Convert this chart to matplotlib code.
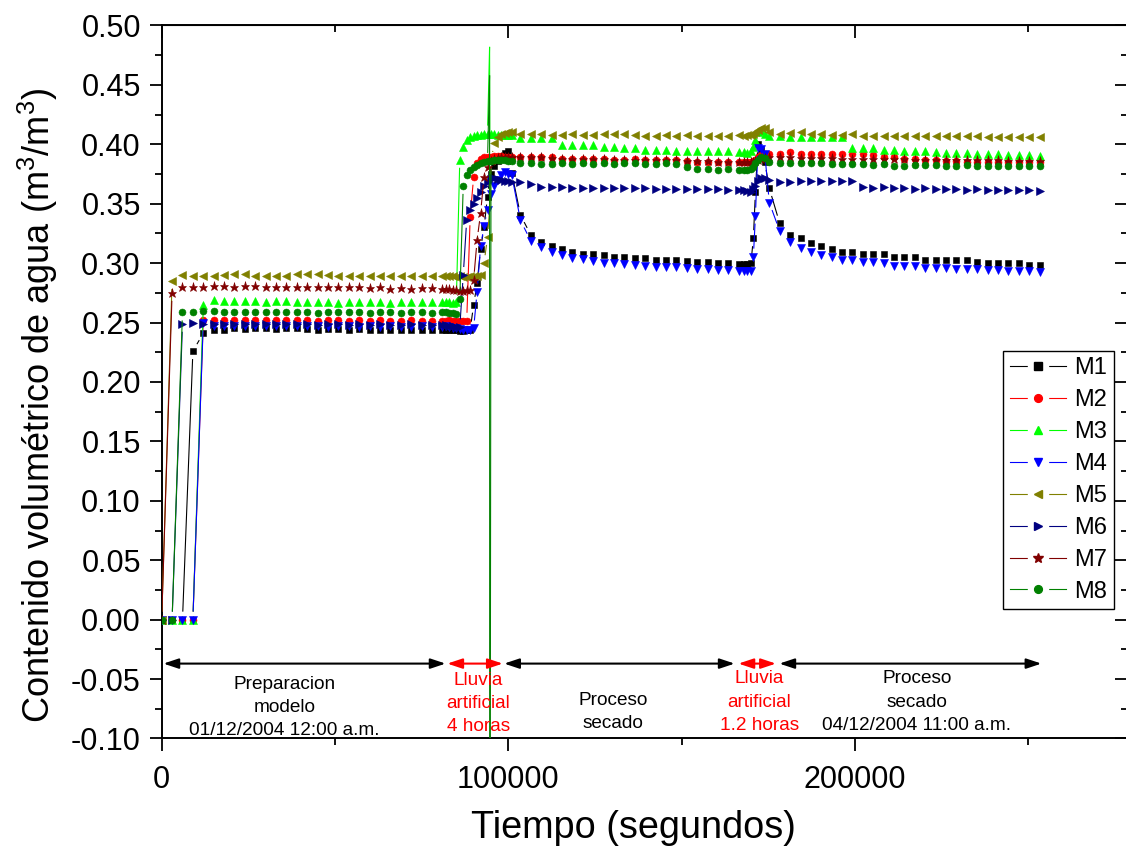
import numpy as np
import matplotlib
matplotlib.use('Agg')
import matplotlib.pyplot as plt
from matplotlib.collections import LineCollection
from matplotlib.lines import Line2D
from matplotlib.ticker import MultipleLocator, FuncFormatter

plt.rcParams['font.family'] = ['Liberation Sans', 'DejaVu Sans']
plt.rcParams['mathtext.default'] = 'regular'

# sampling times (s): every 3000 s, every 1000 s during the two rain events
t_prep = list(range(0, 82000, 3000))
t_rain1 = [82000, 83000, 84000, 85000, 86000, 87000, 88000, 89000, 90000, 91000,
           92000, 93000, 94000, 94600, 94650, 95000, 96000, 97000, 98000, 99000,
           100000, 101000]
t_dry1 = list(range(103500, 167000, 3000))
t_rain2 = [168000, 169000, 170000, 170700, 171300, 172000, 173000, 174000]
t_dry2 = list(range(175300, 254000, 3000))
spike_t = [94600, 94650]   # transient readings, drawn without symbol

# volumetric water content per sensor (prep | rain 1 | dry 1 | rain 2 | dry 2)
m1 = [0, 0, 0, 0.226, 0.241, 0.2435, 0.244, 0.245, 0.2445, 0.245, 0.245, 0.2445, 0.245, 0.245,
      0.2445, 0.244, 0.2445, 0.2445, 0.244, 0.2445, 0.244, 0.244, 0.2435, 0.244, 0.244, 0.2435, 0.2435, 0.244,
      0.2435, 0.244, 0.2435, 0.2435, 0.243, 0.243, 0.2435, 0.244, 0.265, 0.283, 0.312, 0.33, 0.356,
      0.37, 0.37, 0.375, 0.382, 0.386, 0.39, 0.393, 0.3945, 0.376,
      0.3405, 0.3237, 0.3176, 0.314, 0.3117, 0.3097, 0.308, 0.308, 0.307, 0.3053, 0.3053, 0.304, 0.304,
      0.303, 0.303, 0.303, 0.302, 0.301, 0.301, 0.300, 0.300, 0.299,
      0.299, 0.2995, 0.300, 0.321, 0.36, 0.40, 0.395, 0.385,
      0.363, 0.3335, 0.3237, 0.321, 0.3168, 0.314, 0.3117, 0.3097, 0.3097, 0.3078, 0.3078, 0.3078, 0.305,
      0.305, 0.305, 0.3028, 0.3028, 0.3028, 0.3028, 0.3028, 0.3013, 0.3005, 0.3005, 0.300, 0.300, 0.2986, 0.2986]
m2 = [0, 0, 0, 0, 0.2525, 0.252, 0.2525, 0.252, 0.2525, 0.252, 0.252, 0.2525, 0.252, 0.252,
      0.252, 0.2515, 0.252, 0.252, 0.2515, 0.252, 0.2515, 0.252, 0.2515, 0.2515, 0.252, 0.2515, 0.2515, 0.2515,
      0.2515, 0.252, 0.2515, 0.251, 0.2515, 0.251, 0.2515, 0.3386, 0.3727, 0.384, 0.3875, 0.389, 0.389,
      0.389, 0.389, 0.3895, 0.39, 0.39, 0.39, 0.3895, 0.3895, 0.3895,
      0.3895, 0.3895, 0.3895, 0.389, 0.388, 0.388, 0.388, 0.388, 0.388, 0.3872, 0.3865, 0.388, 0.3865,
      0.3865, 0.3865, 0.3865, 0.386, 0.385, 0.385, 0.3848, 0.385, 0.385,
      0.385, 0.385, 0.3855, 0.386, 0.387, 0.389, 0.391, 0.392,
      0.392, 0.392, 0.3935, 0.392, 0.392, 0.3915, 0.3915, 0.3915, 0.3915, 0.3915, 0.391, 0.3895, 0.389,
      0.388, 0.3875, 0.3867, 0.3867, 0.386, 0.386, 0.3853, 0.3853, 0.3853, 0.3853, 0.3853, 0.3853, 0.3853, 0.385]
m3 = [0, 0, 0, 0, 0.2645, 0.269, 0.2685, 0.2685, 0.268, 0.268, 0.2675, 0.2685, 0.268, 0.2675,
      0.267, 0.2675, 0.2675, 0.2665, 0.2675, 0.2675, 0.267, 0.2675, 0.2665, 0.2675, 0.2675, 0.267, 0.2675, 0.267,
      0.267, 0.267, 0.2665, 0.2675, 0.387, 0.398, 0.404, 0.406, 0.407, 0.408, 0.408, 0.4085, 0.409,
      0.482, 0.409, 0.409, 0.4085, 0.408, 0.4078, 0.4076, 0.4076, 0.4076,
      0.405, 0.405, 0.405, 0.405, 0.399, 0.399, 0.399, 0.399, 0.398, 0.3975, 0.397, 0.3965, 0.395,
      0.395, 0.395, 0.3945, 0.3945, 0.3945, 0.394, 0.394, 0.394, 0.3937,
      0.3935, 0.393, 0.394, 0.398, 0.404, 0.41, 0.411, 0.409,
      0.407, 0.407, 0.4065, 0.406, 0.406, 0.406, 0.406, 0.406, 0.397, 0.397, 0.397, 0.3955, 0.395,
      0.3945, 0.3945, 0.3945, 0.3937, 0.393, 0.393, 0.393, 0.392, 0.392, 0.392, 0.391, 0.391, 0.391, 0.3905]
m4 = [0, 0, 0, 0, 0.250, 0.2475, 0.2475, 0.247, 0.2475, 0.2475, 0.247, 0.2475, 0.247, 0.2475,
      0.247, 0.247, 0.2465, 0.247, 0.247, 0.2465, 0.247, 0.2465, 0.247, 0.2465, 0.2465, 0.247, 0.2465, 0.2465,
      0.247, 0.246, 0.2455, 0.245, 0.2445, 0.244, 0.244, 0.2435, 0.245, 0.276, 0.314, 0.331, 0.345,
      0.352, 0.352, 0.358, 0.365, 0.37, 0.374, 0.377, 0.375, 0.374,
      0.336, 0.3187, 0.3134, 0.3097, 0.307, 0.3047, 0.3035, 0.3022, 0.3005, 0.300, 0.2995, 0.2986, 0.2978,
      0.297, 0.2965, 0.2965, 0.2958, 0.2952, 0.295, 0.2944, 0.294, 0.2935,
      0.2935, 0.293, 0.2935, 0.3055, 0.34, 0.397, 0.396, 0.392,
      0.351, 0.327, 0.318, 0.313, 0.3097, 0.307, 0.3055, 0.3028, 0.3028, 0.3013, 0.3013, 0.300, 0.2977,
      0.2977, 0.2977, 0.2963, 0.296, 0.296, 0.2952, 0.2952, 0.295, 0.2944, 0.294, 0.2938, 0.293, 0.293, 0.2924]
m5 = [0, 0.285, 0.29, 0.2895, 0.289, 0.2895, 0.29, 0.2905, 0.2905, 0.2895, 0.2895, 0.289, 0.2895, 0.2905,
      0.291, 0.2905, 0.29, 0.289, 0.2895, 0.2895, 0.289, 0.2895, 0.2895, 0.289, 0.2895, 0.289, 0.289, 0.2895,
      0.289, 0.2895, 0.289, 0.2885, 0.289, 0.2885, 0.2885, 0.289, 0.2895, 0.2895, 0.29, 0.300, 0.322,
      0.345, 0.345, 0.387, 0.401, 0.406, 0.409, 0.4095, 0.41, 0.41,
      0.409, 0.409, 0.4085, 0.4075, 0.4075, 0.4085, 0.4075, 0.4075, 0.4085, 0.409, 0.4085, 0.4075, 0.407,
      0.407, 0.4075, 0.407, 0.4075, 0.407, 0.407, 0.407, 0.407, 0.4075,
      0.407, 0.4075, 0.408, 0.409, 0.41, 0.412, 0.414, 0.4135,
      0.4105, 0.409, 0.4097, 0.41, 0.409, 0.4085, 0.4075, 0.4075, 0.4085, 0.407, 0.407, 0.407, 0.407,
      0.407, 0.407, 0.407, 0.4068, 0.4068, 0.4068, 0.4068, 0.4068, 0.4065, 0.4065, 0.4065, 0.4065, 0.4063, 0.4063]
m6 = [0, 0, 0.249, 0.2495, 0.249, 0.249, 0.2485, 0.249, 0.249, 0.2485, 0.249, 0.2485, 0.2485, 0.249,
      0.2485, 0.248, 0.2485, 0.2485, 0.248, 0.2485, 0.248, 0.2485, 0.248, 0.248, 0.2485, 0.248, 0.248, 0.248,
      0.248, 0.2475, 0.247, 0.2465, 0.246, 0.29, 0.3365, 0.345, 0.35, 0.355, 0.36, 0.365, 0.368,
      0.37, 0.37, 0.371, 0.372, 0.371, 0.37, 0.369, 0.369, 0.368,
      0.3685, 0.367, 0.364, 0.3638, 0.3638, 0.3635, 0.3635, 0.363, 0.363, 0.363, 0.363, 0.363, 0.363,
      0.3625, 0.3625, 0.3625, 0.362, 0.362, 0.362, 0.362, 0.3615, 0.3615,
      0.3615, 0.3605, 0.36, 0.362, 0.365, 0.369, 0.372, 0.3715,
      0.370, 0.3685, 0.3685, 0.369, 0.3695, 0.369, 0.369, 0.369, 0.3695, 0.3643, 0.3635, 0.3643, 0.3635,
      0.363, 0.3625, 0.363, 0.3625, 0.3625, 0.362, 0.3615, 0.362, 0.3615, 0.3615, 0.3615, 0.3615, 0.3615, 0.3607]
m7 = [0, 0.275, 0.2795, 0.28, 0.28, 0.2805, 0.2805, 0.28, 0.2805, 0.2805, 0.28, 0.28, 0.2795, 0.28,
      0.2795, 0.2795, 0.2795, 0.2795, 0.2795, 0.2795, 0.279, 0.2795, 0.2785, 0.279, 0.2785, 0.279, 0.279, 0.2785,
      0.2785, 0.278, 0.2775, 0.277, 0.2765, 0.2765, 0.277, 0.2775, 0.286, 0.3195, 0.342, 0.3727, 0.381,
      0.384, 0.384, 0.386, 0.388, 0.3885, 0.389, 0.389, 0.389, 0.389,
      0.389, 0.389, 0.389, 0.3885, 0.388, 0.388, 0.388, 0.3875, 0.3875, 0.387, 0.387, 0.387, 0.3865,
      0.3865, 0.3865, 0.3865, 0.386, 0.386, 0.386, 0.3855, 0.3855, 0.3855,
      0.3855, 0.385, 0.385, 0.3855, 0.386, 0.387, 0.388, 0.3885,
      0.389, 0.389, 0.389, 0.3885, 0.3885, 0.3885, 0.3885, 0.388, 0.388, 0.388, 0.388, 0.3875, 0.3875,
      0.3875, 0.387, 0.387, 0.387, 0.387, 0.3865, 0.3865, 0.3865, 0.3865, 0.3865, 0.386, 0.386, 0.386, 0.386]
m8 = [0, 0, 0.2585, 0.2585, 0.2595, 0.2595, 0.259, 0.2585, 0.2585, 0.259, 0.2585, 0.2585, 0.259, 0.2585,
      0.2585, 0.258, 0.2585, 0.2585, 0.2585, 0.259, 0.258, 0.2585, 0.2585, 0.258, 0.2585, 0.2585, 0.258, 0.2585,
      0.2585, 0.258, 0.258, 0.2575, 0.27, 0.365, 0.374, 0.378, 0.381, 0.383, 0.384, 0.385, 0.386,
      0.458, -0.5, 0.386, 0.3865, 0.387, 0.387, 0.3865, 0.386, 0.386,
      0.384, 0.384, 0.3835, 0.3835, 0.384, 0.3835, 0.384, 0.3835, 0.384, 0.3835, 0.384, 0.3845, 0.3835,
      0.3835, 0.384, 0.3835, 0.3805, 0.379, 0.379, 0.378, 0.379, 0.378,
      0.378, 0.378, 0.379, 0.381, 0.384, 0.387, 0.389, 0.3885,
      0.385, 0.384, 0.384, 0.3845, 0.3845, 0.384, 0.3835, 0.3835, 0.3835, 0.3835, 0.3827, 0.3835, 0.3818,
      0.3818, 0.3827, 0.3827, 0.3827, 0.3818, 0.3818, 0.3827, 0.3818, 0.3818, 0.3818, 0.3818, 0.3818, 0.3818, 0.3818]

names = ['M1', 'M2', 'M3', 'M4', 'M5', 'M6', 'M7', 'M8']
colors = ['#000000', '#FF0000', '#00FF00', '#0000FF', '#808000', '#000080', '#800000', '#008000']
markers = ['s', 'o', '^', 'v', '<', '>', '*', 'o']
msizes = [4.6, 5.0, 5.6, 5.6, 5.6, 5.6, 6.6, 5.0]

# phases annotated under the curves
phase_start = [500, 82400, 98800, 166400, 178200]
phase_end = [81900, 98400, 165300, 177200, 253800]
phase_color = ['black', 'red', 'black', 'red', 'black']
phase_text = ['Preparacion\nmodelo\n01/12/2004 12:00 a.m.', 'Lluvia\nartificial\n4 horas',
              'Proceso\nsecado', 'Lluvia\nartificial\n1.2 horas',
              'Proceso\nsecado\n04/12/2004 11:00 a.m.']
text_x = [35500, 91300, 130200, 172450, 217900]
text_top = [-0.0474, -0.0438, -0.0609, -0.0427, -0.0427]
arrow_y = -0.037

fig = plt.figure(figsize=(11.26, 8.49), dpi=100)
ax = fig.add_axes([0.1436, 0.1302, 0.8573, 0.8398])
ax.set_xlim(0, 278500)
ax.set_ylim(-0.1, 0.5)

t = np.array(t_prep + t_rain1 + t_dry1 + t_rain2 + t_dry2, dtype=float)
has_mark = ~np.isin(t, spike_t)
GAP = 8  # px left free around each symbol (Origin "gap to symbol")


def gapped(x, y, mark, gap):
    pts = ax.transData.transform(np.column_stack([x, y]))
    inv = ax.transData.inverted()
    segs = []
    for i in range(len(pts) - 1):
        p0, p1 = pts[i], pts[i + 1]
        d = p1 - p0
        L = np.hypot(d[0], d[1])
        g0 = gap if mark[i] else 0.0
        g1 = gap if mark[i + 1] else 0.0
        if L <= g0 + g1:
            continue
        u = d / L
        segs.append(inv.transform(np.array([p0 + u * g0, p1 - u * g1])))
    return segs


handles = []
for i, v in enumerate([m1, m2, m3, m4, m5, m6, m7, m8]):
    v = np.array(v, dtype=float)
    c = colors[i]
    lc = LineCollection(gapped(t, v, has_mark, GAP), colors=c, linewidths=0.8, zorder=2 + i)
    ax.add_collection(lc)
    ax.plot(t[has_mark], v[has_mark], ls='none', marker=markers[i], ms=msizes[i],
            mfc=c, mec=c, mew=0.4, zorder=2 + i)
    h_line = Line2D([], [], color=c, lw=0.8)
    h_gap = Line2D([], [], ls='none', marker='s', ms=14, mfc='white', mec='white')
    h_mark = Line2D([], [], ls='none', marker=markers[i], ms=msizes[i] + 0.6, mfc=c, mec=c)
    handles.append((h_line, h_gap, h_mark))

# phase arrows and labels
for x0, x1, c, txt, tx, ty in zip(phase_start, phase_end, phase_color, phase_text, text_x, text_top):
    ax.annotate('', xy=(x1, arrow_y), xytext=(x0, arrow_y),
                arrowprops=dict(arrowstyle='<|-|>,head_length=0.9,head_width=0.3', color=c,
                                lw=1.5, shrinkA=0, shrinkB=0, mutation_scale=10), zorder=12)
    ax.text(tx, ty, txt, color=c, fontsize=13.7, ha='center', va='top', linespacing=1.48,
            multialignment='center', zorder=12)

# axes and ticks
ax.xaxis.set_major_locator(MultipleLocator(100000))
ax.xaxis.set_minor_locator(MultipleLocator(50000))
ax.yaxis.set_major_locator(MultipleLocator(0.05))
ax.yaxis.set_minor_locator(MultipleLocator(0.025))
ax.xaxis.set_major_formatter(FuncFormatter(lambda x, p: f'{x:.0f}'))
ax.yaxis.set_major_formatter(FuncFormatter(lambda y, p: f'{(0.0 if abs(y) < 1e-9 else y):.2f}'))
ax.tick_params(which='both', direction='out', width=1.3, labelsize=22)
ax.tick_params(which='major', length=9)
ax.tick_params(which='minor', length=5)
ax.tick_params(axis='x', pad=10)
ax.tick_params(axis='y', pad=6)
for s in ax.spines.values():
    s.set_linewidth(1.4)

top = ax.secondary_xaxis('top')
top.xaxis.set_major_locator(MultipleLocator(100000))
top.xaxis.set_minor_locator(MultipleLocator(50000))
top.tick_params(which='both', direction='in', width=1.3, labeltop=False)
top.tick_params(which='major', length=9)
top.tick_params(which='minor', length=5)
right = ax.secondary_yaxis('right')
right.yaxis.set_major_locator(MultipleLocator(0.05))
right.yaxis.set_minor_locator(MultipleLocator(0.025))
right.tick_params(which='both', direction='in', width=1.3, labelright=False)
right.tick_params(which='major', length=9)
right.tick_params(which='minor', length=4)

fig.text(633 / 1126, 1 - 828 / 849, 'Tiempo (segundos)', ha='center', va='center', fontsize=27.3)
fig.text(38 / 1126, 1 - 405 / 849, 'Contenido volumétrico de agua (m$^3$/m$^3$)',
         rotation=90, ha='center', va='center', fontsize=26)

leg = ax.legend(handles, names, loc='upper left', bbox_to_anchor=(1003 / 1126, 1 - 350.7 / 849),
                bbox_transform=fig.transFigure, fontsize=17, handlelength=2.4, handletextpad=0.35,
                labelspacing=0.42, borderpad=0.28, borderaxespad=0, fancybox=False,
                edgecolor='black', framealpha=1)
leg.get_frame().set_linewidth(1.0)
leg.set_zorder(20)

fig.savefig('out.png', dpi=100)
